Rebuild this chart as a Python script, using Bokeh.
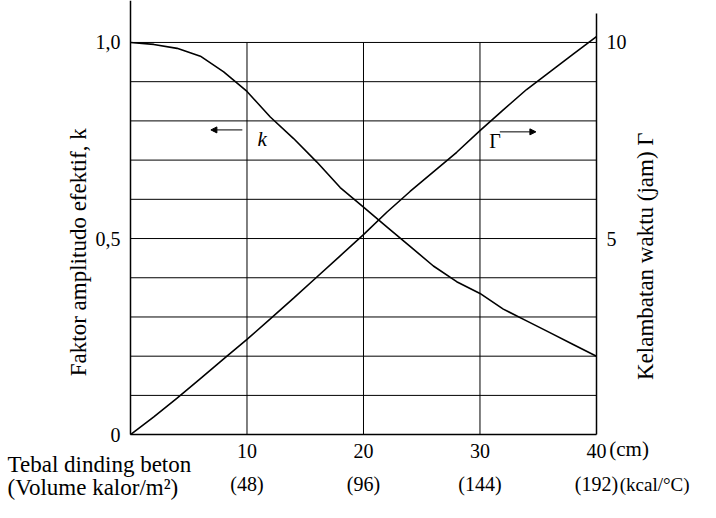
from bokeh.plotting import figure
from bokeh.models import Range1d, LinearAxis, FixedTicker, Arrow, NormalHead
from bokeh.core.properties import value
from bokeh.embed import file_html
from bokeh.resources import INLINE
import math

# ---- data ----
thickness_cm = [0, 2, 4, 6, 8, 10, 12, 14, 16, 18, 20, 22, 24, 26, 28, 30, 32, 34, 36, 38, 40]
k_values = [1.0, 0.995, 0.985, 0.965, 0.925, 0.875, 0.81, 0.755, 0.695, 0.63, 0.58,
            0.53, 0.48, 0.43, 0.39, 0.36, 0.32, 0.29, 0.26, 0.23, 0.20]
gamma_hours = [0.0, 0.45, 0.93, 1.43, 1.93, 2.43, 2.95, 3.48, 4.02, 4.56, 5.1,
               5.67, 6.2, 6.7, 7.2, 7.75, 8.28, 8.8, 9.25, 9.7, 10.15]
x_ticks = [10, 20, 30, 40]
x_tick_labels = ["10", "20", "30", "40"]
heat_tick_labels = ["(48)", "(96)", "(144)", "(192)"]
k_ticks = [0, 0.5, 1.0]
k_tick_labels = ["0", "0,5", "1,0"]
gamma_ticks = [5, 10]
gamma_tick_labels = ["5", "10"]
k_grid = [0.1, 0.2, 0.3, 0.4, 0.5, 0.6, 0.7, 0.8, 0.9, 1.0]
x_grid = [10, 20, 30]
x_min, x_max = 0, 40

FONT = "Liberation Serif"

p = figure(width=700, height=500, output_backend="svg", toolbar_location=None,
           x_range=Range1d(-11.16, 48.93), y_range=Range1d(-0.168, 1.107),
           min_border=0, x_axis_type=None, y_axis_type=None)
p.outline_line_color = None
p.background_fill_color = "white"
p.border_fill_color = "white"
p.extra_y_ranges = {"gamma": Range1d(-1.68, 11.07)}

ya = LinearAxis(ticker=FixedTicker(ticks=k_ticks), fixed_location=0,
                major_label_overrides={t: l for t, l in zip(k_ticks, k_tick_labels)})
ya.bounds = (0, 1.107)
p.add_layout(ya, "left")

ra = LinearAxis(y_range_name="gamma", ticker=FixedTicker(ticks=gamma_ticks), fixed_location=40,
                major_label_overrides={t: l for t, l in zip(gamma_ticks, gamma_tick_labels)})
ra.bounds = (0, 10.74)
p.add_layout(ra, "right")

xa = LinearAxis(ticker=FixedTicker(ticks=x_ticks), fixed_location=0,
                major_label_overrides={t: l for t, l in zip(x_ticks, x_tick_labels)})
xa.bounds = (0, 40)
p.add_layout(xa, "below")
xb = LinearAxis(ticker=FixedTicker(ticks=x_ticks), fixed_location=-0.07,
                major_label_overrides={t: l for t, l in zip(x_ticks, heat_tick_labels)})
xb.bounds = (0, 40)
p.add_layout(xb, "below")

for ax in (ya, ra, xa, xb):
    ax.major_tick_line_color = None
    ax.minor_tick_line_color = None
    ax.major_label_text_font = FONT
    ax.major_label_text_font_size = "20px"
    ax.major_label_text_color = "black"
    ax.axis_line_color = "black"
    ax.axis_line_width = 1.5
    ax.major_label_standoff = 4
xb.axis_line_color = None
xa.major_label_standoff = 3
xb.major_label_standoff = 5

# grid lines inside the chart box
p.segment(x0=[x_min] * len(k_grid), y0=k_grid, x1=[x_max] * len(k_grid), y1=k_grid,
          line_color="black", line_width=1)
p.segment(x0=x_grid, y0=[0] * len(x_grid), x1=x_grid, y1=[1.0] * len(x_grid),
          line_color="black", line_width=1)

# curves
p.line(thickness_cm, k_values, line_color="black", line_width=1.6)
p.line(thickness_cm, gamma_hours, y_range_name="gamma", line_color="black", line_width=1.6)

def txt(x, y, s, size, angle=0.0, align="left", style="normal", y_range_name="default"):
    p.text(x=[x], y=[y], text=[s], angle=angle, text_align=align, text_baseline="middle",
           text_font=value(FONT), text_font_size=value(size), text_font_style=style,
           text_color="black", y_range_name=y_range_name)

# curve labels and arrows
txt(10.9, 0.755, "k", "21px", style="italic")
p.add_layout(Arrow(end=NormalHead(size=6, fill_color="black", line_color="black"),
                   x_start=9.6, y_start=0.777, x_end=6.9, y_end=0.777,
                   line_color="black", line_width=1))
txt(30.8, 7.5, "Γ", "20px", y_range_name="gamma")
p.add_layout(Arrow(end=NormalHead(size=6, fill_color="black", line_color="black"),
                   x_start=31.7, y_start=7.72, x_end=34.8, y_end=7.72, y_range_name="gamma",
                   line_color="black", line_width=1))

# axis titles (both read bottom to top)
txt(-4.5, 0.465, "Faktor amplitudo efektif, k", "23px", angle=math.pi / 2, align="center")
txt(44.2, 0.455, "Kelambatan waktu (jam) Γ", "23px", angle=math.pi / 2, align="center")

# bottom-left titles and unit labels
txt(-10.55, -0.076, "Tebal dinding beton", "23px")
txt(-10.55, -0.135, "(Volume kalor/m²)", "23px")
txt(41.1, -0.036, "(cm)", "21px")
txt(42.0, -0.127, "(kcal/°C)", "19px")

open("out.html", "w").write(file_html(p, INLINE))
